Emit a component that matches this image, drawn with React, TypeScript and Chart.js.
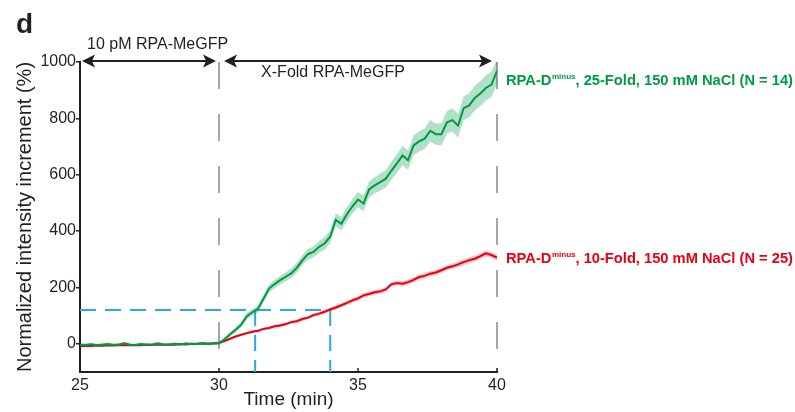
import React, { useEffect, useRef } from "react";
import { Chart, registerables } from "chart.js";

Chart.register(...registerables);

const FONT = "'Liberation Sans', Arial, Helvetica, sans-serif";
const INK = "#231f20";
const GREEN = "#009944";
const RED = "#e60012";

// ---- data ----
const times = [
  25.0, 25.2, 25.4, 25.6, 25.8, 26.0, 26.2, 26.4, 26.6, 26.8,
  27.0, 27.2, 27.4, 27.6, 27.8, 28.0, 28.2, 28.4, 28.6, 28.8,
  29.0, 29.2, 29.4, 29.6, 29.8, 30.0, 30.2, 30.4, 30.6, 30.8,
  31.0, 31.2, 31.4, 31.6, 31.8, 32.0, 32.2, 32.4, 32.6, 32.8,
  33.0, 33.2, 33.4, 33.6, 33.8, 34.0, 34.2, 34.4, 34.6, 34.8,
  35.0, 35.2, 35.4, 35.6, 35.8, 36.0, 36.2, 36.4, 36.6, 36.8,
  37.0, 37.2, 37.4, 37.6, 37.8, 38.0, 38.2, 38.4, 38.6, 38.8,
  39.0, 39.2, 39.4, 39.6, 39.8, 40.0,
];

const green25Fold = [
  -3, -4, -2, -5, -3, -1, -4, -2, 2, -3,
  -4, -1, -3, -2, 1, -2, -3, 0, -2, 1,
  -1, 0, 2, 0, 1, 2, 16, 34, 50, 68,
  98, 112, 124, 160, 196, 212, 226, 238, 250, 270,
  296, 318, 326, 344, 356, 380, 440, 426, 460, 488,
  512, 498, 548, 562, 574, 586, 614, 640, 668, 652,
  704, 718, 728, 756, 744, 744, 786, 794, 774, 836,
  846, 872, 888, 908, 920, 968,
];

const green25FoldSem = [
  5, 5, 6, 5, 5, 6, 5, 5, 6, 5,
  5, 6, 5, 5, 6, 5, 5, 6, 5, 5,
  5, 5, 6, 5, 5, 6, 7, 8, 9, 10,
  11, 12, 12, 13, 14, 15, 15, 16, 17, 18,
  18, 19, 20, 21, 22, 22, 23, 24, 25, 26,
  27, 28, 28, 29, 30, 31, 32, 33, 34, 34,
  35, 36, 37, 38, 38, 39, 40, 41, 42, 42,
  43, 44, 44, 45, 45, 45,
];

const red10Fold = [
  -8, -7, -8, -6, -7, -5, -6, -5, -4, -5,
  -4, -5, -3, -4, -2, -3, -2, -3, -1, -2,
  0, -1, 1, 0, 2, 3, 10, 18, 26, 32,
  38, 43, 46, 53, 56, 62, 65, 70, 77, 80,
  88, 93, 102, 107, 114, 122, 129, 137, 145, 154,
  161, 172, 177, 183, 186, 193, 211, 216, 213, 219,
  227, 237, 241, 249, 253, 261, 270, 275, 282, 290,
  297, 302, 311, 321, 315, 306,
];

const red10FoldSem = [
  3, 3, 3, 3, 3, 3, 3, 3, 3, 3,
  3, 3, 3, 3, 3, 3, 3, 3, 3, 3,
  3, 3, 3, 3, 3, 3, 4, 4, 4, 4,
  5, 5, 5, 5, 5, 5, 6, 6, 6, 6,
  6, 6, 7, 7, 7, 7, 7, 7, 8, 8,
  8, 8, 8, 8, 8, 8, 8, 8, 9, 9,
  9, 9, 9, 9, 9, 9, 9, 9, 10, 10,
  10, 10, 10, 10, 10, 10,
];

const X_TICKS = [25, 30, 35, 40];
const Y_TICKS = [0, 200, 400, 600, 800, 1000];
const X_MIN = 25;
const X_MAX = 40;
const Y_MIN = -100;
const Y_MAX = 1000;
const PHASE_LINES = [30, 40];
const THRESHOLD = 120;
const THRESHOLD_TIMES = [31.3, 34];

const PHASE1_LABEL = "10 pM RPA-MeGFP";
const PHASE2_LABEL = "X-Fold RPA-MeGFP";
const GREEN_LABEL = ", 25-Fold, 150 mM NaCl (N = 14)";
const RED_LABEL = ", 10-Fold, 150 mM NaCl (N = 25)";

const pts = (vals: number[]) => times.map((t, i) => ({ x: t, y: vals[i] }));
const band = (vals: number[], err: number[], sign: number) =>
  times.map((t, i) => ({ x: t, y: vals[i] + sign * err[i] }));

function drawArrow(ctx: CanvasRenderingContext2D, x1: number, x2: number, y: number) {
  const L = 13, W = 6.5, N = 3;
  ctx.beginPath();
  ctx.moveTo(x1 + L - N, y);
  ctx.lineTo(x2 - L + N, y);
  ctx.stroke();
  ctx.beginPath();
  ctx.moveTo(x1, y);
  ctx.lineTo(x1 + L, y - W);
  ctx.lineTo(x1 + L - N, y);
  ctx.lineTo(x1 + L, y + W);
  ctx.closePath();
  ctx.fill();
  ctx.beginPath();
  ctx.moveTo(x2, y);
  ctx.lineTo(x2 - L, y - W);
  ctx.lineTo(x2 - L + N, y);
  ctx.lineTo(x2 - L, y + W);
  ctx.closePath();
  ctx.fill();
}

function drawSeriesLabel(ctx: CanvasRenderingContext2D, x: number, yc: number, rest: string, color: string) {
  ctx.fillStyle = color;
  ctx.textAlign = "left";
  ctx.textBaseline = "alphabetic";
  const base = yc + 5;
  ctx.font = `bold 14.7px ${FONT}`;
  ctx.fillText("RPA-D", x, base);
  let w = ctx.measureText("RPA-D").width + 0.5;
  ctx.font = `bold 8px ${FONT}`;
  ctx.fillText("minus", x + w, base - 6);
  w += ctx.measureText("minus").width;
  ctx.font = `bold 14.7px ${FONT}`;
  ctx.fillText(rest, x + w, base);
}

const annotations = {
  id: "annotations",
  beforeDatasetsDraw(chart: any) {
    const { ctx, scales } = chart;
    const x = scales.x, y = scales.y;
    ctx.save();
    ctx.lineWidth = 2;
    ctx.strokeStyle = "#a6a6a6";
    ctx.setLineDash([27, 25]);
    for (const t of PHASE_LINES) {
      const px = x.getPixelForValue(t);
      ctx.beginPath();
      ctx.moveTo(px, y.getPixelForValue(Y_MAX));
      ctx.lineTo(px, y.getPixelForValue(Y_MIN));
      ctx.stroke();
    }
    ctx.strokeStyle = "#29abe2";
    ctx.setLineDash([16, 9]);
    const yb = y.getPixelForValue(THRESHOLD);
    ctx.beginPath();
    ctx.moveTo(x.getPixelForValue(X_MIN), yb);
    ctx.lineTo(x.getPixelForValue(THRESHOLD_TIMES[THRESHOLD_TIMES.length - 1]), yb);
    ctx.stroke();
    for (const t of THRESHOLD_TIMES) {
      const px = x.getPixelForValue(t);
      ctx.beginPath();
      ctx.moveTo(px, yb);
      ctx.lineTo(px, y.getPixelForValue(Y_MIN));
      ctx.stroke();
    }
    ctx.restore();
  },
  afterDraw(chart: any) {
    const { ctx, scales } = chart;
    const x = scales.x, y = scales.y;
    ctx.save();
    ctx.strokeStyle = INK;
    ctx.lineWidth = 1.5;
    const yBottom = y.getPixelForValue(Y_MIN);
    for (const t of X_TICKS) {
      const px = x.getPixelForValue(t);
      ctx.beginPath();
      ctx.moveTo(px, yBottom);
      ctx.lineTo(px, yBottom - 4);
      ctx.stroke();
    }
    ctx.strokeStyle = INK;
    ctx.fillStyle = INK;
    ctx.lineWidth = 2;
    const ya = y.getPixelForValue(Y_MAX) - 1;
    drawArrow(ctx, x.getPixelForValue(X_MIN) + 2, x.getPixelForValue(PHASE_LINES[0]) - 3, ya);
    drawArrow(ctx, x.getPixelForValue(PHASE_LINES[0]) + 5, x.getPixelForValue(PHASE_LINES[1]) - 5, ya);
    ctx.font = `16px ${FONT}`;
    ctx.textBaseline = "middle";
    ctx.textAlign = "left";
    ctx.fillText(PHASE1_LABEL, x.getPixelForValue(X_MIN) + 7, ya - 16);
    ctx.textAlign = "center";
    ctx.fillText(PHASE2_LABEL, x.getPixelForValue(34.1), ya + 12);
    const xl = x.getPixelForValue(X_MAX) + 9;
    drawSeriesLabel(ctx, xl, y.getPixelForValue(green25Fold[green25Fold.length - 1] - 32), GREEN_LABEL, GREEN);
    drawSeriesLabel(ctx, xl, y.getPixelForValue(red10Fold[red10Fold.length - 1]), RED_LABEL, RED);
    ctx.fillStyle = INK;
    ctx.textAlign = "left";
    ctx.textBaseline = "alphabetic";
    ctx.font = `bold 28px ${FONT}`;
    ctx.fillText("d", 16, 33);
    ctx.restore();
  },
};

export default function App() {
  const ref = useRef<HTMLCanvasElement | null>(null);
  useEffect(() => {
    if (!ref.current) return;
    Chart.defaults.font.family = FONT;
    Chart.defaults.color = INK;
    const chart = new Chart(ref.current, {
      type: "line",
      data: {
        datasets: [
          { label: "green", data: pts(green25Fold), borderColor: GREEN, borderWidth: 2, pointRadius: 0, fill: false, tension: 0 },
          { label: "gU", data: band(green25Fold, green25FoldSem, 1), borderWidth: 0, borderColor: "transparent", backgroundColor: "rgba(0,153,68,0.3)", pointRadius: 0, fill: "+1", tension: 0 },
          { label: "gL", data: band(green25Fold, green25FoldSem, -1), borderWidth: 0, borderColor: "transparent", pointRadius: 0, fill: false, tension: 0 },
          { label: "red", data: pts(red10Fold), borderColor: RED, borderWidth: 2, pointRadius: 0, fill: false, tension: 0 },
          { label: "rU", data: band(red10Fold, red10FoldSem, 1), borderWidth: 0, borderColor: "transparent", backgroundColor: "rgba(230,0,18,0.25)", pointRadius: 0, fill: "+1", tension: 0 },
          { label: "rL", data: band(red10Fold, red10FoldSem, -1), borderWidth: 0, borderColor: "transparent", pointRadius: 0, fill: false, tension: 0 },
        ],
      },
      options: {
        responsive: false,
        animation: false,
        events: [],
        layout: { padding: { top: 62, right: 298, bottom: 0, left: 0 } },
        plugins: { legend: { display: false }, tooltip: { enabled: false } },
        scales: {
          x: {
            type: "linear",
            min: X_MIN,
            max: X_MAX,
            afterBuildTicks: (s: any) => { s.ticks = X_TICKS.map((v) => ({ value: v })); },
            afterFit: (s: any) => { s.height = 40; },
            grid: { display: true, drawOnChartArea: false, drawTicks: false },
            border: { display: true, color: INK, width: 2 },
            ticks: { font: { size: 16 }, color: INK, padding: 4, maxRotation: 0, autoSkip: false, callback: (v: any) => String(v) },
            title: { display: true, text: "Time (min)", font: { size: 19 }, color: INK, padding: { top: 0, bottom: 1 } },
          },
          y: {
            type: "linear",
            min: Y_MIN,
            max: Y_MAX,
            afterBuildTicks: (s: any) => { s.ticks = Y_TICKS.map((v) => ({ value: v })); },
            afterFit: (s: any) => { s.width = 80; },
            grid: { display: true, drawOnChartArea: false, drawTicks: true, tickLength: 4, color: INK, lineWidth: 1.5 },
            border: { display: true, color: INK, width: 2 },
            ticks: { font: { size: 16 }, color: INK, padding: 0, autoSkip: false, callback: (v: any) => String(v) },
            title: { display: true, text: "Normalized intensity increment (%)", font: { size: 20 }, color: INK, padding: { top: 13, bottom: 0 } },
          },
        },
      },
      plugins: [annotations],
    });
    return () => chart.destroy();
  }, []);
  return (
    <div style={{ position: "absolute", left: 0, top: 0, width: 795, height: 412, background: "#fff" }}>
      <canvas ref={ref} width={795} height={412} style={{ display: "block" }} />
    </div>
  );
}
